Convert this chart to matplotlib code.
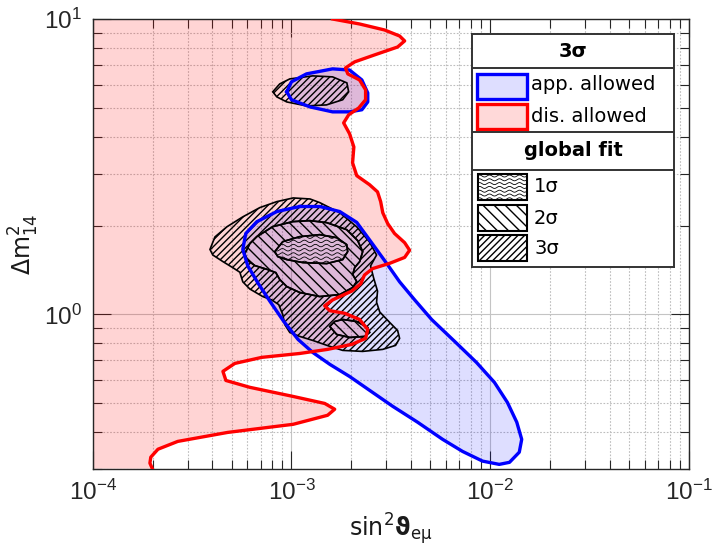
import numpy as np
import matplotlib
matplotlib.use('Agg')
import matplotlib.pyplot as plt
from matplotlib.path import Path
from matplotlib.patches import PathPatch, Rectangle
from matplotlib.collections import LineCollection
from matplotlib.ticker import LogLocator, FuncFormatter, NullFormatter

# ---------------- data (sin^2 values given in units of 1e-3 where named *_e3) ----------------
# dis. allowed boundary (3 sigma)
red_s2_e3 = [1.61,2.2,2.94,3.5,3.71,3.42,2.62,2.08,1.87,1.92,2.2,2.36,2.36,2.18,1.94,1.83,1.96,2.06,2.03,2.13,2.47,2.71,2.81,2.88,3.05,3.3,3.71,3.93,3.71,3.12,2.56,2.33,2.23,2.01,1.61,1.47,1.56,1.85,2.2,2.42,2.36,2.01,1.52,1.1,0.709,0.519,0.452,0.468,0.617,1.02,1.47,1.65,1.52,1.02,0.478,0.268,0.213,0.196,0.194,0.199]
red_dm2 = [10,9.62,9.18,8.76,8.43,8.04,7.56,7.16,6.83,6.52,6.22,5.76,5.33,5,4.74,4.45,4.09,3.69,3.26,2.95,2.75,2.6,2.41,2.21,2.03,1.88,1.75,1.65,1.56,1.49,1.43,1.36,1.27,1.2,1.12,1.07,1.03,1.01,0.962,0.89,0.83,0.792,0.762,0.738,0.716,0.683,0.642,0.598,0.567,0.528,0.5,0.478,0.456,0.425,0.399,0.372,0.35,0.329,0.314,0.302]

# app. allowed (3 sigma): upper island and main region
blue_up_s2_e3 = [0.947,1,1.19,1.61,1.96,2.26,2.42,2.42,2.26,1.96,1.61,1.24,1]
blue_up_dm2 = [5.67,6.13,6.52,6.78,6.72,6.22,5.62,5.24,4.93,4.85,4.85,5.04,5.33]
blue_s2_e3 = [1.1,1.39,1.75,2.13,2.53,3.01,3.5,4.17,5.07,6.62,8.53,10.5,12.2,13.6,14.4,14,12.5,11.1,9.15,7.26,5.76,4.31,3.23,2.47,1.96,1.56,1.28,1.08,0.915,0.778,0.677,0.603,0.569,0.589,0.669,0.844]
blue_dm2 = [2.32,2.32,2.23,2.05,1.75,1.49,1.29,1.12,0.962,0.811,0.688,0.589,0.504,0.432,0.378,0.342,0.316,0.311,0.319,0.344,0.378,0.432,0.489,0.554,0.617,0.678,0.744,0.823,0.947,1.11,1.28,1.46,1.66,1.88,2.06,2.23]

# global fit 3 sigma: upper island and main region
s3a_s2_e3 = [0.805,0.873,0.981,1.28,1.61,1.9,1.94,1.81,1.5,1.19,0.947,0.844]
s3a_dm2 = [5.67,6.03,6.27,6.42,6.37,6.08,5.67,5.33,5.12,5.08,5.24,5.45]
s3b_s2_e3 = [0.389,0.412,0.473,0.569,0.693,0.844,1.02,1.24,1.39,1.75,2.13,2.47,2.68,2.5,2.59,2.71,2.68,2.78,3.12,3.42,3.5,3.34,2.88,2.28,1.81,1.56,1.28,1.1,0.981,0.925,0.904,0.863,0.796,0.717,0.617,0.569,0.55,0.507,0.452,0.402]
s3b_dm2 = [1.66,1.83,1.98,2.14,2.3,2.41,2.48,2.46,2.39,2.21,1.98,1.76,1.59,1.46,1.33,1.2,1.1,1.02,0.94,0.883,0.83,0.786,0.762,0.75,0.756,0.78,0.817,0.843,0.869,0.925,1,1.08,1.12,1.15,1.22,1.29,1.39,1.44,1.51,1.59]

# global fit 2 sigma: main region and small island
s2a_s2_e3 = [0.5825,0.6172,0.6693,0.8054,1.015,1.236,1.504,1.896,2.154,2.282,2.204,2.08,2.033,2.129,2.033,1.749,1.387,1.101,0.9471,0.8734,0.8339,0.7602,0.654,0.5962]
s2a_dm2 = [1.607,1.737,1.834,1.983,2.062,2.078,2.046,1.937,1.778,1.632,1.51,1.441,1.365,1.293,1.234,1.168,1.15,1.187,1.243,1.313,1.386,1.419,1.464,1.534]
s2b_s2_e3 = [1.558,1.65,1.81,2.129,2.418,2.474,2.335,1.963,1.689]
s2b_dm2 = [0.9109,0.947,0.9619,0.947,0.9038,0.8693,0.8427,0.8362,0.8559]

# global fit 1 sigma
s1_s2_e3 = [0.8243,0.9042,1.101,1.387,1.689,1.896,1.918,1.81,1.504,1.14,0.9471,0.8534]
s1_dm2 = [1.632,1.764,1.834,1.863,1.82,1.724,1.632,1.534,1.487,1.499,1.534,1.57]

x_ticks = [1e-4, 1e-3, 1e-2, 1e-1]
y_ticks = [1, 10]

def e3(v):
    return [x * 1e-3 for x in v]

red_s2 = e3(red_s2_e3)
blue_up_s2 = e3(blue_up_s2_e3)
blue_s2 = e3(blue_s2_e3)
s3a_s2 = e3(s3a_s2_e3)
s3b_s2 = e3(s3b_s2_e3)
s2a_s2 = e3(s2a_s2_e3)
s2b_s2 = e3(s2b_s2_e3)
s1_s2 = e3(s1_s2_e3)

# ---------------- figure ----------------
fig = plt.figure(figsize=(7.12, 5.54), dpi=100)
ax = fig.add_axes([92.7/712, 1-469/554, (689-92.7)/712, 450/554])
ax.set_xscale('log'); ax.set_yscale('log')
ax.set_xlim(1e-4, 1e-1); ax.set_ylim(0.3, 10)

def ring(xs, ys, ccw=True):
    v = np.column_stack([xs, ys]).astype(float)
    lv = np.log10(v)
    area = 0.5*np.sum(lv[:, 0]*np.roll(lv[:, 1], -1) - np.roll(lv[:, 0], -1)*lv[:, 1])
    if (area > 0) != ccw:
        v = v[::-1]
    v = np.vstack([v, v[:1]])
    codes = [Path.MOVETO] + [Path.LINETO]*(len(v)-2) + [Path.CLOSEPOLY]
    return Path(v, codes)

def region(outer, holes=()):
    return Path.make_compound_path(ring(*outer, True), *[ring(*h, False) for h in holes])

# dis. allowed fill (left of red boundary)
ax.fill_betweenx(red_dm2, ax.get_xlim()[0], red_s2, color=(1, 0, 0, 0.17), lw=0, zorder=1)
# app. allowed fill
for xs, ys in [(blue_up_s2, blue_up_dm2), (blue_s2, blue_dm2)]:
    ax.fill(xs, ys, color=(0, 0, 1, 0.13), lw=0, zorder=1.1)

# global fit hatched regions (as rings)
p3a = PathPatch(region((s3a_s2, s3a_dm2)), fc='none', ec='black', hatch='/////', lw=1.2, zorder=2)
p3b = PathPatch(region((s3b_s2, s3b_dm2), [(s2a_s2, s2a_dm2), (s2b_s2, s2b_dm2)]),
                fc='none', ec='black', hatch='/////', lw=1.2, zorder=2)
p2 = PathPatch(region((s2a_s2, s2a_dm2), [(s1_s2, s1_dm2)]), fc='none', ec='black', hatch='\\\\\\', lw=1.2, zorder=2)
p2b = PathPatch(region((s2b_s2, s2b_dm2)), fc='none', ec='black', hatch='\\\\\\', lw=1.2, zorder=2)
p1 = PathPatch(region((s1_s2, s1_dm2)), fc='none', ec='black', lw=1.2, zorder=2.1)
for p in (p3a, p3b, p2, p2b, p1):
    ax.add_patch(p)

def wavy_lines(target, x0, x1, y0, y1, step, lam, amp, tr, sx=1.0, sy=1.0, clip=None, lw=0.6):
    xs = np.linspace(x0, x1, 300)
    segs = []
    y = y0
    while y <= y1:
        segs.append(np.column_stack([xs/sx, (y + amp*np.sin(2*np.pi*xs/lam))/sy]))
        y += step
    lc = LineCollection(segs, colors='black', linewidths=lw, transform=tr, zorder=2.05)
    target.add_collection(lc)
    if clip is not None:
        lc.set_clip_path(clip)
    return lc

# wavy hatch for 1 sigma, laid out in pixel units inside the axes
fig.canvas.draw()
W = ax.bbox.width; H = ax.bbox.height
d = ax.transData.transform(np.column_stack([s1_s2, s1_dm2]))
a = ax.transAxes.inverted().transform(d) * [W, H]
wavy_lines(ax, a[:, 0].min()-5, a[:, 0].max()+5, a[:, 1].min()-3, a[:, 1].max()+3,
           4.2, 11.0, 1.2, ax.transAxes, sx=W, sy=H, clip=p1)

ax.plot(blue_up_s2 + blue_up_s2[:1], blue_up_dm2 + blue_up_dm2[:1], color='#0000ff', lw=2.4, zorder=3)
ax.plot(blue_s2 + blue_s2[:1], blue_dm2 + blue_dm2[:1], color='#0000ff', lw=2.4, zorder=3)
ax.plot(red_s2, red_dm2, color='#ff0000', lw=2.4, zorder=4)

# axes styling
ax.set_xticks(x_ticks); ax.set_yticks(y_ticks)
ax.xaxis.set_minor_locator(LogLocator(base=10, subs=np.arange(2, 10)))
ax.yaxis.set_minor_locator(LogLocator(base=10, subs=np.arange(2, 10)))
fmt = FuncFormatter(lambda v, p: r'$\mathregular{10^{%d}}$' % int(round(np.log10(v))))
ax.xaxis.set_major_formatter(fmt); ax.yaxis.set_major_formatter(fmt)
ax.xaxis.set_minor_formatter(NullFormatter()); ax.yaxis.set_minor_formatter(NullFormatter())
ax.tick_params(which='both', direction='in', top=True, right=True, color='#262626', width=0.8)
ax.tick_params(which='major', length=13, labelsize=17.5, labelcolor='#262626',
               labelfontfamily='Liberation Sans', pad=8)
ax.tick_params(which='minor', length=6.5)
ax.grid(which='major', color='#c4c4c4', lw=0.8, ls='-', zorder=0)
ax.grid(which='minor', color='#bdbdbd', lw=0.8, ls=(0, (1.5, 1.5)), zorder=0)
ax.set_axisbelow(True)
for s in ax.spines.values():
    s.set_color('#262626'); s.set_linewidth(1.0)
ax.set_xlabel(r'sin$^2\mathbf{\vartheta}_{\mathregular{e\mu}}$', fontsize=17, color='#1a1a1a', labelpad=4)
ax.set_ylabel(r'$\Delta\mathregular{m}^2_{14}$', fontsize=17, color='#1a1a1a', labelpad=2)

# ---------------- legend box ----------------
lax = fig.add_axes([472/712, 1-266.7/554, 202/712, 232.7/554])
lax.set_xlim(0, 202); lax.set_ylim(232.7, 0)
lax.set_xticks([]); lax.set_yticks([])
for s in lax.spines.values():
    s.set_color('#333333'); s.set_linewidth(1.4)
for yy in (33.7, 97.7, 136):
    lax.axhline(yy, color='#333333', lw=1.4)
lax.text(101, 17.7, '3σ', ha='center', va='center', fontsize=14, fontweight='bold')
lax.text(101, 116, 'global fit', ha='center', va='center', fontsize=14, fontweight='bold')
lax.add_patch(Rectangle((5.5, 39.5), 49, 25, fc=(0.87, 0.87, 1.0), ec='#0000ff', lw=2.4))
lax.add_patch(Rectangle((5.5, 69.5), 49, 25, fc=(1.0, 0.85, 0.85), ec='#ff0000', lw=2.4))
lax.text(59, 50, 'app. allowed', va='center', fontsize=14)
lax.text(59, 83, 'dis. allowed', va='center', fontsize=14)
r1 = Rectangle((6, 140), 48.5, 26, fc='white', ec='black', lw=1.5)
lax.add_patch(r1)
wavy_lines(lax, 4, 58, 142, 166, 3.8, 10.0, 1.0, lax.transData, clip=r1, lw=0.6)
lax.add_patch(Rectangle((6, 170.5), 48.5, 26, fc='white', ec='black', lw=1.5, hatch='\\\\\\'))
lax.add_patch(Rectangle((6, 201), 48.5, 26, fc='white', ec='black', lw=1.5, hatch='/////'))
for yy, t in [(153, '1σ'), (184.5, '2σ'), (214.5, '3σ')]:
    lax.text(62, yy, t, va='center', fontsize=14)

fig.savefig('out.png', dpi=100)
